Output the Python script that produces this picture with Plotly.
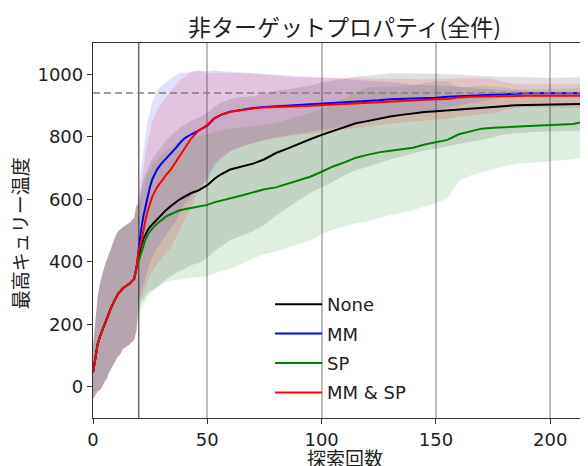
import plotly.graph_objects as go

# ---- data ----
init_steps = list(range(20))
init_mean = [45, 95, 135, 160, 180, 200, 215, 235, 255, 270, 285, 298, 305, 315, 320, 325, 330, 338, 345, 380]
init_std = [85, 120, 150, 170, 180, 185, 190, 190, 195, 200, 200, 200, 200, 195, 195, 195, 195, 195, 195, 200]

steps = [20, 21, 22, 23, 24, 25, 26, 28, 30, 32, 34, 36, 38, 40, 43, 46, 50, 53, 56, 60,
         65, 70, 75, 80, 85, 90, 95, 100, 105, 110, 115, 120, 125, 130, 135, 140, 145, 150,
         155, 160, 165, 170, 175, 180, 185, 190, 195, 200, 205, 210, 216, 220]

none_mean = [415, 450, 472, 488, 502, 512, 520, 535, 550, 566, 578, 590, 600, 608, 620, 628, 645, 665, 680, 695,
             705, 714, 728, 748, 762, 778, 792, 806, 818, 832, 843, 850, 858, 865, 870, 875, 879, 882,
             885, 888, 890, 892, 896, 899, 901, 902, 903, 903, 904, 904, 905, 905]
none_std = [165, 180, 190, 195, 200, 205, 210, 215, 220, 222, 225, 227, 229, 230, 231, 232, 232, 231, 230, 226,
            222, 216, 210, 200, 190, 180, 172, 168, 162, 155, 150, 146, 142, 138, 133, 128, 123, 120,
            115, 110, 106, 102, 98, 92, 90, 88, 87, 86, 86, 85, 85, 85]

mm_mean = [450, 500, 545, 580, 612, 642, 665, 695, 715, 730, 745, 762, 780, 795, 808, 820, 835, 858, 870, 880,
           887, 892, 895, 898, 900, 902, 904, 906, 907, 910, 912, 915, 917, 920, 921, 922, 924, 925,
           928, 930, 932, 934, 936, 937, 938, 939, 939, 939, 939, 939, 939, 939]
mm_std = [170, 195, 215, 230, 240, 245, 248, 250, 250, 245, 240, 235, 225, 210, 200, 190, 175, 155, 140, 128,
          118, 112, 105, 100, 95, 92, 88, 85, 80, 75, 70, 65, 60, 55, 50, 45, 42, 40,
          35, 30, 25, 20, 15, 12, 10, 6, 5, 5, 5, 5, 5, 5]

sp_mean = [405, 430, 452, 472, 488, 498, 507, 522, 535, 545, 552, 558, 565, 568, 572, 577, 582, 590, 595, 602,
           612, 622, 632, 638, 650, 662, 672, 688, 705, 718, 733, 742, 750, 755, 760, 765, 775, 782,
           790, 808, 818, 826, 829, 831, 833, 834, 836, 837, 839, 841, 850, 852]
sp_std = [176, 185, 190, 195, 198, 200, 202, 205, 208, 210, 213, 217, 220, 222, 224, 226, 228, 227, 226, 224,
          218, 212, 207, 205, 205, 205, 203, 200, 202, 205, 210, 215, 210, 205, 203, 200, 198, 195,
          188, 150, 142, 139, 132, 125, 120, 118, 116, 115, 114, 113, 112, 112]

mmsp_mean = [435, 460, 500, 535, 565, 590, 610, 638, 660, 678, 695, 718, 740, 762, 795, 818, 838, 860, 870, 880,
             886, 890, 894, 896, 897, 898, 899, 900, 903, 905, 907, 910, 912, 914, 915, 917, 918, 920,
             921, 926, 928, 929, 930, 930, 931, 931, 931, 931, 931, 931, 931, 931]
mmsp_std = [150, 180, 200, 215, 225, 235, 240, 245, 250, 250, 250, 245, 240, 230, 215, 195, 165, 145, 135, 125,
            118, 112, 105, 100, 95, 92, 90, 88, 85, 82, 80, 77, 75, 72, 70, 68, 66, 65,
            64, 62, 60, 58, 55, 45, 38, 37, 37, 37, 37, 37, 37, 37]

labels = ["None", "MM", "SP", "MM & SP"]
colors = ["#000000", "#0000ff", "#008000", "#ff0000"]
fills = ["rgba(0,0,0,0.12)", "rgba(0,0,255,0.12)", "rgba(0,128,0,0.12)", "rgba(255,0,0,0.12)"]
means = [none_mean, mm_mean, sp_mean, mmsp_mean]
stds = [none_std, mm_std, sp_std, mmsp_std]

best_value = 940
x_ticks = [0, 50, 100, 150, 200]
y_ticks = [0, 200, 400, 600, 800, 1000]

JP = "Noto Sans CJK JP"
LAT = "DejaVu Sans"

fig = go.Figure()
xs = init_steps + steps

for lab, fc, m, s in zip(labels, fills, means, stds):
    mean = init_mean + m
    sd = init_std + s
    lo = [a - b for a, b in zip(mean, sd)]
    hi = [a + b for a, b in zip(mean, sd)]
    fig.add_trace(go.Scatter(x=xs, y=lo, mode="lines", line=dict(width=0),
                             showlegend=False, hoverinfo="skip", legendgroup=lab))
    fig.add_trace(go.Scatter(x=xs, y=hi, mode="lines", line=dict(width=0), fill="tonexty",
                             fillcolor=fc, showlegend=False, hoverinfo="skip", legendgroup=lab))

for lab, col, m in zip(labels, colors, means):
    fig.add_trace(go.Scatter(x=xs, y=init_mean + m, mode="lines", name=lab,
                             line=dict(color=col, width=2), legendgroup=lab))

fig.add_shape(type="line", xref="x", yref="paper", x0=20, x1=20, y0=0, y1=1,
              line=dict(color="#6e6e6e", width=1.5), layer="below")
fig.add_shape(type="line", xref="paper", yref="y", x0=0, x1=1, y0=best_value, y1=best_value,
              line=dict(color="#808080", width=1.6, dash="7px,4px"), layer="above")

fig.update_layout(
    width=588, height=466,
    margin=dict(l=85, r=0, t=35, b=56),
    paper_bgcolor="white", plot_bgcolor="white",
    font=dict(family=LAT, size=18, color="#222222"),
    title=dict(text="非ターゲットプロパティ(全件)", x=0.5, xref="paper", xanchor="center",
               y=1 - 20 / 466, yref="container", yanchor="middle",
               font=dict(family=JP, size=23, color="#222222")),
    showlegend=True,
    legend=dict(x=0.352, y=0.352, xanchor="left", yanchor="top", bgcolor="rgba(0,0,0,0)",
                borderwidth=0, font=dict(family=LAT, size=18, color="#222222"),
                tracegroupgap=3, traceorder="grouped", itemwidth=47),
    annotations=[
        dict(text="探索回数", xref="paper", yref="paper", x=0.5, y=-0.104,
             xanchor="center", yanchor="middle", showarrow=False,
             font=dict(family=JP, size=19, color="#222222")),
        dict(text="最高キュリー温度", xref="paper", yref="paper", x=-0.147, y=0.493,
             xanchor="center", yanchor="middle", showarrow=False, textangle=-90,
             font=dict(family=JP, size=19, color="#222222")),
    ],
)

fig.update_xaxes(range=[0, 220], tickvals=x_ticks, ticks="outside", ticklen=5, tickwidth=1.3,
                 tickcolor="#333333", showline=True, linecolor="#333333", linewidth=1.3, mirror=True,
                 showgrid=True, gridcolor="#bdbdbd", gridwidth=1.5, zeroline=False, automargin=False,
                 tickfont=dict(family=LAT, size=18, color="#222222"))
fig.update_yaxes(range=[-100, 1100], tickvals=y_ticks, ticks="outside", ticklen=5, tickwidth=1.3,
                 tickcolor="#333333", showline=True, linecolor="#333333", linewidth=1.3,
                 showgrid=False, zeroline=False, automargin=False,
                 tickfont=dict(family=LAT, size=18, color="#222222"))

fig.write_html("out.html")
